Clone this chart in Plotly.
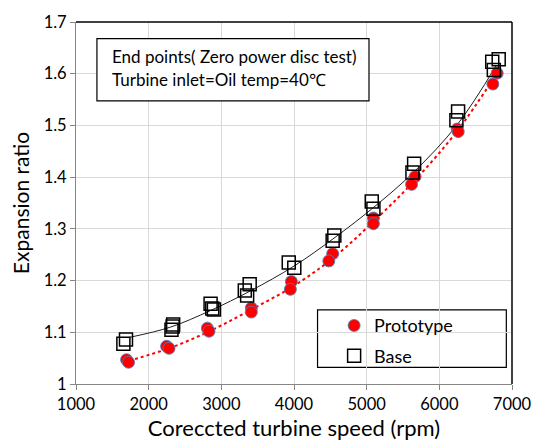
import plotly.graph_objects as go

# ---- data ----
proto_x = [1696, 1723, 2247, 2280, 2808, 2830, 3413, 3413, 3964, 3950, 4532, 4479,
           5093, 5093, 5667, 5618, 6245, 6260, 6796, 6737]
proto_y = [1.047, 1.042, 1.073, 1.069, 1.108, 1.102, 1.147, 1.139, 1.198, 1.183, 1.252, 1.238,
           1.321, 1.310, 1.401, 1.386, 1.493, 1.488, 1.601, 1.580]

base_x = [1688, 1652, 2337, 2314, 2330, 2852, 2898, 2875, 3390, 3323, 3355, 3928, 4004,
          4555, 4532, 5070, 5093, 5653, 5630, 6258, 6235, 6728, 6817, 6750]
base_y = [1.086, 1.078, 1.115, 1.105, 1.111, 1.155, 1.144, 1.146, 1.193, 1.181, 1.171, 1.235, 1.225,
          1.287, 1.277, 1.353, 1.339, 1.426, 1.409, 1.527, 1.510, 1.623, 1.628, 1.607]

trend_x = [1730, 2300, 2850, 3400, 4000, 4550, 5100, 5650, 6250, 6780]
base_trend_y = [1.090, 1.110, 1.142, 1.180, 1.228, 1.282, 1.342, 1.410, 1.502, 1.615]
proto_trend_y = [1.045, 1.070, 1.103, 1.143, 1.190, 1.245, 1.315, 1.392, 1.490, 1.598]

x_ticks = [1000, 2000, 3000, 4000, 5000, 6000, 7000]
y_ticks = [1.0, 1.1, 1.2, 1.3, 1.4, 1.5, 1.6, 1.7]
y_tick_labels = ["1", "1.1", "1.2", "1.3", "1.4", "1.5", "1.6", "1.7"]

FONT = "Lato, Open Sans, sans-serif"

fig = go.Figure()

fig.add_trace(go.Scatter(x=trend_x, y=proto_trend_y, mode="lines", line_shape="spline",
                         line=dict(color="#ff0000", width=2, dash="3px,3px"),
                         showlegend=False, hoverinfo="skip"))
fig.add_trace(go.Scatter(x=trend_x, y=base_trend_y, mode="lines", line_shape="spline",
                         line=dict(color="#202020", width=1),
                         showlegend=False, hoverinfo="skip"))

fig.add_trace(go.Scatter(x=proto_x, y=proto_y, mode="markers", name="Prototype",
                         legendgroup="p",
                         marker=dict(symbol="circle", size=12, color="#ff0000",
                                     line=dict(color="rgba(79,129,189,0.85)", width=1))))
fig.add_trace(go.Scatter(x=base_x, y=base_y, mode="markers", name="Base",
                         legendgroup="b",
                         marker=dict(symbol="square-open", size=13, color="#000000",
                                     line=dict(color="#000000", width=1.5))))

axis_common = dict(showgrid=True, gridcolor="#d9d9d9", gridwidth=1,
                   showline=True, linecolor="#868686", linewidth=1,
                   ticks="outside", ticklen=5, tickcolor="#868686",
                   tickfont=dict(family=FONT, size=16.5, color="#000000"),
                   zeroline=False)

fig.update_xaxes(range=[1000, 7000], tickvals=x_ticks, **axis_common,
                 title=dict(text="Coreccted turbine speed (rpm)",
                            font=dict(family=FONT, size=22, color="#000000"), standoff=4))
fig.update_yaxes(range=[1.0, 1.7], tickvals=y_ticks, ticktext=y_tick_labels, **axis_common,
                 title=dict(text="Expansion ratio",
                            font=dict(family=FONT, size=21, color="#000000"), standoff=8))

# top and right frame lines
fig.add_shape(type="line", xref="paper", yref="paper", x0=0, x1=1, y0=1, y1=1,
              line=dict(color="#000000", width=1.5))
fig.add_shape(type="line", xref="paper", yref="paper", x0=1, x1=1, y0=0, y1=1,
              line=dict(color="#000000", width=1.5))

# text box
fig.add_shape(type="rect", xref="paper", yref="paper", x0=0.048, x1=0.672, y0=0.782, y1=0.954,
              line=dict(color="#000000", width=1.2), fillcolor="white", layer="above")
fig.add_annotation(xref="paper", yref="paper", x=0.078, y=0.906, xanchor="left", yanchor="middle",
                   text="End points( Zero power disc test)", showarrow=False,
                   font=dict(family=FONT, size=17, color="#000000"))
fig.add_annotation(xref="paper", yref="paper", x=0.078, y=0.841, xanchor="left", yanchor="middle",
                   text="Turbine inlet=Oil temp=40℃", showarrow=False,
                   font=dict(family=FONT, size=17, color="#000000"))

# legend box
fig.add_shape(type="rect", xref="paper", yref="paper", x0=0.554, x1=0.987, y0=0.046, y1=0.205,
              line=dict(color="#000000", width=1.2), fillcolor="white", layer="below")

fig.update_layout(
    width=544, height=445,
    margin=dict(l=75.5, r=22, t=13, b=61),
    paper_bgcolor="white", plot_bgcolor="white",
    font=dict(family=FONT, color="#000000"),
    legend=dict(x=0.592, y=0.212, xanchor="left", yanchor="top",
                bgcolor="rgba(0,0,0,0)", borderwidth=0,
                font=dict(family=FONT, size=18, color="#000000"),
                tracegroupgap=4, itemsizing="trace"),
)

fig.write_html("out.html")
